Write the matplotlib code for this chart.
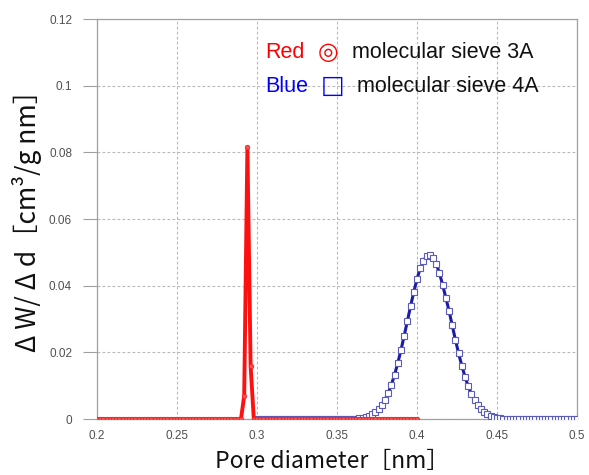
import numpy as np
import matplotlib
matplotlib.use("Agg")
import matplotlib.pyplot as plt

# Pore size distributions (dW/dd) for two molecular sieves
red_start, red_stop, red_step = 0.200, 0.400, 0.002
red_peak_x = [0.290, 0.292, 0.294, 0.296, 0.298]
red_peak_y = [0.0, 0.007, 0.0815, 0.016, 0.0]

blue_start, blue_stop, blue_step = 0.300, 0.500, 0.002
blue_peak_x = [0.360, 0.362, 0.364, 0.366, 0.368, 0.370, 0.372, 0.374, 0.376,
               0.378, 0.380, 0.382, 0.384, 0.386, 0.388, 0.390, 0.392, 0.394,
               0.396, 0.398, 0.400, 0.402, 0.404, 0.406, 0.408, 0.410, 0.412,
               0.414, 0.416, 0.418, 0.420, 0.422, 0.424, 0.426, 0.428, 0.430,
               0.432, 0.434, 0.436, 0.438, 0.440, 0.442, 0.444, 0.446, 0.448,
               0.450, 0.452, 0.454]
blue_peak_y = [0.0001, 0.00014, 0.00023, 0.00038, 0.0006, 0.00092, 0.0014,
               0.0021, 0.0030, 0.0042, 0.0058, 0.0078, 0.0103, 0.0133, 0.0168,
               0.0207, 0.0250, 0.0294, 0.0339, 0.0381, 0.0420, 0.0452, 0.0475,
               0.0489, 0.0492, 0.0484, 0.0466, 0.0438, 0.0403, 0.0364, 0.0325,
               0.0281, 0.0238, 0.0197, 0.0160, 0.0127, 0.0098, 0.0075, 0.0056,
               0.0041, 0.0029, 0.0020, 0.0014, 0.0009, 0.0006, 0.0004, 0.0002,
               0.0001]

x_ticks = [0.2, 0.25, 0.3, 0.35, 0.4, 0.45, 0.5]
x_tick_labels = ["0.2", "0.25", "0.3", "0.35", "0.4", "0.45", "0.5"]
y_ticks = [0, 0.02, 0.04, 0.06, 0.08, 0.1, 0.12]
y_tick_labels = ["0", "0.02", "0.04", "0.06", "0.08", "0.1", "0.12"]


def build_series(start, stop, step, px, py):
    n = int(round((stop - start) / step)) + 1
    xs = np.round(start + step * np.arange(n), 4)
    ys = np.zeros(n)
    for x, y in zip(px, py):
        ys[np.argmin(np.abs(xs - x))] = y
    return xs, ys


rx, ry = build_series(red_start, red_stop, red_step, red_peak_x, red_peak_y)
bx, by = build_series(blue_start, blue_stop, blue_step, blue_peak_x, blue_peak_y)

W, H = 589, 475
fig = plt.figure(figsize=(W / 100, H / 100), dpi=100)
ax = fig.add_axes([97 / W, 1 - 419 / H, 480 / W, 400 / H])

grid_kw = dict(color="#b8b8b8", linewidth=0.8, linestyle=(0, (2.5, 2)))
ax.grid(True, **grid_kw)
ax.set_axisbelow(True)

ax.plot(bx, by, color="#1c1ca8", linewidth=2.2, marker="s", markersize=4.4,
        markerfacecolor="white", markeredgecolor="#5b5bb8",
        markeredgewidth=0.8, zorder=3)
ax.plot(rx, ry, color="#ff1010", linewidth=2.8, marker="o", markersize=3.2,
        markerfacecolor="#ff5050", markeredgecolor="#ff2020",
        markeredgewidth=0.6, zorder=4)

ax.set_xlim(0.2, 0.5)
ax.set_ylim(0, 0.12)
ax.set_xticks(x_ticks)
ax.set_xticklabels(x_tick_labels)
ax.set_yticks(y_ticks)
ax.set_yticklabels(y_tick_labels)

for s in ax.spines.values():
    s.set_color("#a0a0a0")
    s.set_linewidth(0.9)

for lab in ax.get_xticklabels() + ax.get_yticklabels():
    lab.set_fontfamily(["Liberation Sans", "DejaVu Sans"])
    lab.set_fontsize(8.5)
    lab.set_color("#505050")
ax.tick_params(axis="y", direction="out", length=10, color="#a0a0a0",
               width=0.8, pad=8)
ax.tick_params(axis="x", length=0, pad=8)

label_family = ["Noto Sans CJK JP", "DejaVu Sans"]
fig.text(332 / W, 1 - 462 / H, "Pore diameter［nm］", ha="center",
         va="center", fontsize=16.5, family=label_family, color="#111111")
fig.text(27 / W, 1 - 214 / H, "Δ W/ Δ d［cm³/g nm］", ha="center",
         va="center", rotation=90, fontsize=19, family=label_family,
         color="#111111")

leg_family = ["Liberation Sans", "DejaVu Sans"]
fs = 15.5
fig.text(265 / W, 1 - 52 / H, "Red", color="#ff0000", fontsize=fs,
         family=leg_family, ha="left", va="center")
fig.text(328 / W, 1 - 52 / H, "◎", color="#ff0000", fontsize=17,
         family=["DejaVu Sans"], ha="center", va="center")
fig.text(352 / W, 1 - 52 / H, "molecular sieve 3A", color="#111111",
         fontsize=fs, family=leg_family, ha="left", va="center")
fig.text(265 / W, 1 - 86 / H, "Blue", color="#0000ff", fontsize=fs,
         family=leg_family, ha="left", va="center")
fig.text(333 / W, 1 - 86 / H, "□", color="#0000ff", fontsize=18,
         family=["DejaVu Sans"], ha="center", va="center")
fig.text(357 / W, 1 - 86 / H, "molecular sieve 4A", color="#111111",
         fontsize=fs, family=leg_family, ha="left", va="center")

fig.savefig("out.png", dpi=100, facecolor="white")
